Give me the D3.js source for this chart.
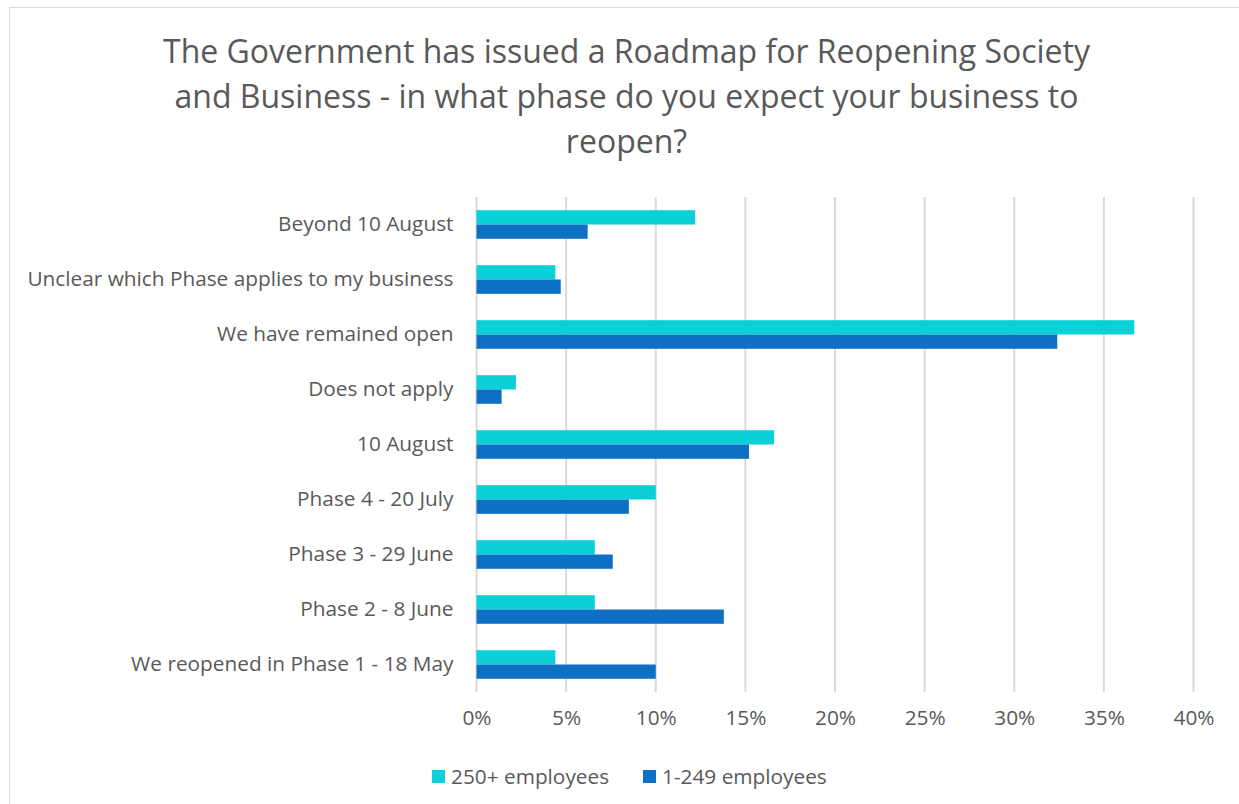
<!DOCTYPE html>
<html>
<head>
<meta charset="utf-8">
<script src="https://cdn.jsdelivr.net/npm/d3@7"></script>
<style>
  body { margin: 0; background: #fff; }
  text { font-family: "Open Sans", "Noto Sans", sans-serif; fill: #595959; }
</style>
</head>
<body>
<svg width="1239" height="804"></svg>
<script>
// categories, top to bottom
const categories = [
    "Beyond 10 August ",
    "Unclear which Phase applies to my business",
    "We have remained open",
    "Does not apply",
    "10 August",
    "Phase 4 - 20 July",
    "Phase 3 - 29 June",
    "Phase 2 - 8 June",
    "We reopened in Phase 1 - 18 May"
];
const seriesNames = ["250+ employees", "1-249 employees"];
const large = [12.2, 4.4, 36.7, 2.2, 16.6, 10.0, 6.6, 6.6, 4.4];
const small = [6.2, 4.7, 32.4, 1.4, 15.2, 8.5, 7.6, 13.8, 10.0];
const tickValues = [0, 5, 10, 15, 20, 25, 30, 35, 40];
const colors = ["#0cd0d8", "#0e70c5"];
const titleLines = [
    "The Government has issued a Roadmap for Reopening Society",
    "and Business - in what phase do you expect your business to",
    "reopen?"
];

const labelSize = "20.8px";
const svg = d3.select("svg");

// chart border
svg.append("rect")
    .attr("x", 9.5).attr("y", 7.5)
    .attr("width", 1240).attr("height", 810)
    .attr("fill", "none")
    .attr("stroke", "#d9d9d9");

// title
svg.append("g").selectAll("text")
    .data(titleLines)
    .enter().append("text")
    .attr("x", 626.5)
    .attr("y", (d, i) => 63 + i * 45)
    .attr("text-anchor", "middle")
    .style("font-size", "32px")
    .text(d => d);

const margin = { top: 197, left: 476.5, right: 1193.5, bottom: 692 };

const x = d3.scaleLinear()
    .domain([0, 40])
    .range([margin.left, margin.right]);

const y = d3.scaleBand()
    .domain(categories)
    .range([margin.top, margin.bottom])
    .paddingInner(0.48)
    .paddingOuter(0.24);

const ySub = d3.scaleBand()
    .domain(seriesNames)
    .range([0, y.bandwidth()]);

// gridlines
svg.append("g").selectAll("line")
    .data(tickValues)
    .enter().append("line")
    .attr("x1", d => x(d)).attr("x2", d => x(d))
    .attr("y1", margin.top).attr("y2", margin.bottom)
    .attr("stroke", "#d9d9d9")
    .attr("stroke-width", 2);

// x axis labels
const xAxis = svg.append("g")
    .attr("transform", `translate(0,${margin.bottom})`)
    .call(d3.axisBottom(x).tickValues(tickValues).tickFormat(d => d + "%").tickSize(0).tickPadding(18));
xAxis.select(".domain").remove();
xAxis.selectAll("text")
    .style("font-size", labelSize)
    .style("font-family", "'Open Sans', 'Noto Sans', sans-serif")
    .attr("fill", "#595959");

// category labels
const yAxis = svg.append("g")
    .attr("transform", `translate(${margin.left},0)`)
    .call(d3.axisLeft(y).tickSize(0).tickPadding(23));
yAxis.select(".domain").remove();
yAxis.selectAll("text")
    .style("font-size", labelSize)
    .style("font-family", "'Open Sans', 'Noto Sans', sans-serif")
    .attr("fill", "#595959");

// bars
const rows = categories.map((c, i) => ({ category: c, values: [large[i], small[i]] }));
const groups = svg.append("g").selectAll("g")
    .data(rows)
    .enter().append("g")
    .attr("transform", d => `translate(0,${y(d.category)})`);

groups.selectAll("rect")
    .data(d => d.values.map((v, j) => ({ name: seriesNames[j], value: v, color: colors[j] })))
    .enter().append("rect")
    .attr("x", x(0))
    .attr("y", d => ySub(d.name))
    .attr("width", d => x(d.value) - x(0))
    .attr("height", ySub.bandwidth())
    .attr("fill", d => d.color);

// legend
const legendX = [432, 643];
const legend = svg.append("g").selectAll("g")
    .data(seriesNames)
    .enter().append("g")
    .attr("transform", (d, i) => `translate(${legendX[i]},770)`);
legend.append("rect")
    .attr("width", 13).attr("height", 13)
    .attr("fill", (d, i) => colors[i]);
legend.append("text")
    .attr("x", 19).attr("y", 14)
    .style("font-size", labelSize)
    .text(d => d);
</script>
</body>
</html>
